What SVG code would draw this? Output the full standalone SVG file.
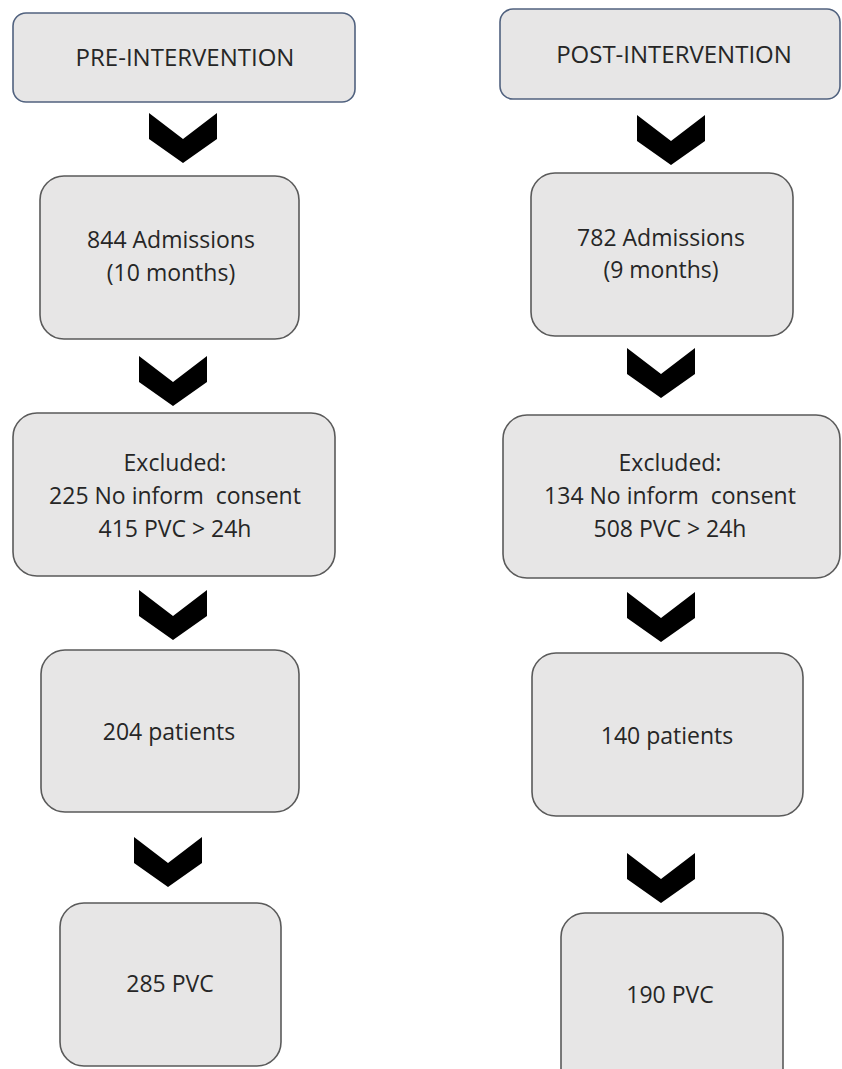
<svg xmlns="http://www.w3.org/2000/svg" width="842" height="1069" viewBox="0 0 842 1069">
<style>
.box{fill:#e7e6e6;stroke:#5a5a5a;stroke-width:1.6}
.hdr{fill:#e7e6e6;stroke:#51627f;stroke-width:1.6}
.t{font-family:"Open Sans","Noto Sans",sans-serif;font-size:23px;fill:#262626;text-anchor:middle}
.h{font-size:24px}
.chev{fill:#000}
</style>
<defs>
<path id="chev" d="M-34,0 L0,26 L34,0 L34,26 L0,50 L-34,26 Z"/>
</defs>
<rect width="842" height="1069" fill="#fff"/>
<g id="connectors" class="chev">
<use href="#chev" x="183" y="113"/>
<use href="#chev" x="173" y="356"/>
<use href="#chev" x="173" y="590"/>
<use href="#chev" x="168" y="837"/>
<use href="#chev" x="671" y="115"/>
<use href="#chev" x="661" y="348"/>
<use href="#chev" x="661" y="592"/>
<use href="#chev" x="661" y="853"/>
</g>
<g id="pre">
<rect class="hdr" x="13" y="13" width="342" height="89" rx="13"/>
<text class="t h" x="185" y="66">PRE-INTERVENTION</text>
</g>
<g id="pre-admissions">
<rect class="box" x="40" y="176" width="259" height="163" rx="24"/>
<text class="t" x="171" y="248">844 Admissions</text>
<text class="t" x="171" y="281">(10 months)</text>
</g>
<g id="pre-excluded">
<rect class="box" x="13" y="413" width="322" height="163" rx="24"/>
<text class="t" x="175" y="471">Excluded:</text>
<text class="t" x="175" y="504" xml:space="preserve">225 No inform  consent</text>
<text class="t" x="175" y="537">415 PVC &gt; 24h</text>
</g>
<g id="pre-patients">
<rect class="box" x="41" y="650" width="258" height="162" rx="24"/>
<text class="t" x="169" y="740">204 patients</text>
</g>
<g id="pre-pvc">
<rect class="box" x="60" y="903" width="221" height="163" rx="24"/>
<text class="t" x="170" y="992">285 PVC</text>
</g>
<g id="post">
<rect class="hdr" x="500" y="9" width="340" height="90" rx="13"/>
<text class="t h" x="674" y="63">POST-INTERVENTION</text>
</g>
<g id="post-admissions">
<rect class="box" x="531" y="173" width="262" height="163" rx="24"/>
<text class="t" x="661" y="246">782 Admissions</text>
<text class="t" x="661" y="278">(9 months)</text>
</g>
<g id="post-excluded">
<rect class="box" x="503" y="415" width="337" height="163" rx="24"/>
<text class="t" x="670" y="471">Excluded:</text>
<text class="t" x="670" y="504" xml:space="preserve">134 No inform  consent</text>
<text class="t" x="670" y="537">508 PVC &gt; 24h</text>
</g>
<g id="post-patients">
<rect class="box" x="532" y="653" width="271" height="163" rx="24"/>
<text class="t" x="667" y="744">140 patients</text>
</g>
<g id="post-pvc">
<rect class="box" x="561" y="913" width="222" height="190" rx="24"/>
<text class="t" x="670" y="1003">190 PVC</text>
</g>
</svg>
